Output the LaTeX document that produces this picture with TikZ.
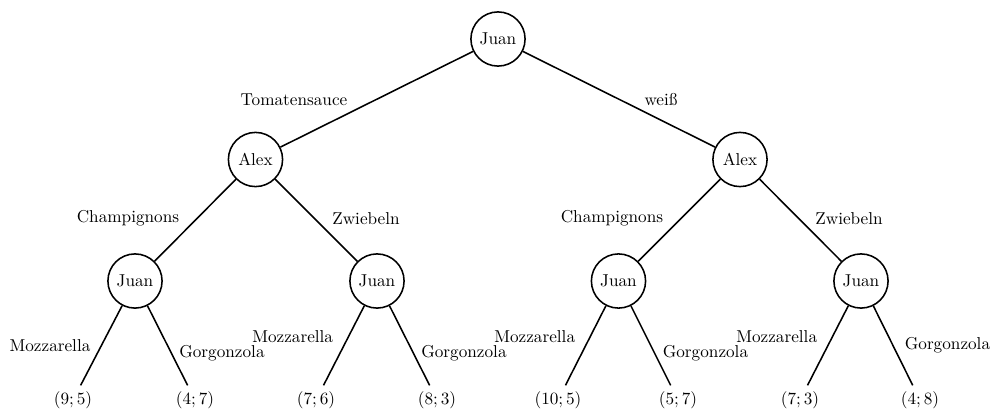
\documentclass[tikz,border=0pt]{standalone}
\begin{document}
\begin{tikzpicture}[x=0.5814pt,y=-0.5814pt,
  player/.style={circle,draw,line width=0.9pt,minimum size=31.5pt,inner sep=0pt},
  leaf/.style={inner sep=3.33pt},
  lbl/.style={inner sep=0pt},
  branch/.style={line width=0.9pt}]
\useasboundingbox (0,0) rectangle (992,409);
% players
\node[player] (r) at (498,39) {Juan};
\node[player] (a1) at (255.5,159.5) {Alex};
\node[player] (a2) at (740,159.5) {Alex};
\node[player] (j1) at (135,281) {Juan};
\node[player] (j2) at (377,281) {Juan};
\node[player] (j3) at (618.5,281) {Juan};
\node[player] (j4) at (861,281) {Juan};
% leaves
\node[leaf] (l1) at (73,400) {$(9;5)$};
\node[leaf] (l2) at (195,400) {$(4;7)$};
\node[leaf] (l3) at (316,400) {$(7;6)$};
\node[leaf] (l4) at (437,400) {$(8;3)$};
\node[leaf] (l5) at (558,400) {$(10;5)$};
\node[leaf] (l6) at (678,400) {$(5;7)$};
\node[leaf] (l7) at (800,400) {$(7;3)$};
\node[leaf] (l8) at (920,400) {$(4;8)$};
% edges
\draw[branch] (r) -- (a1);
\draw[branch] (r) -- (a2);
\draw[branch] (a1) -- (j1);
\draw[branch] (a1) -- (j2);
\draw[branch] (a2) -- (j3);
\draw[branch] (a2) -- (j4);
\draw[branch] (j1) -- (l1);
\draw[branch] (j1) -- (l2);
\draw[branch] (j2) -- (l3);
\draw[branch] (j2) -- (l4);
\draw[branch] (j3) -- (l5);
\draw[branch] (j3) -- (l6);
\draw[branch] (j4) -- (l7);
\draw[branch] (j4) -- (l8);
% labels
\node[lbl] (t1) at (294,100) {Tomatensauce};
\node[lbl] (t2) at (661,100) {weiß};
\node[lbl] (c1) at (128,218) {Champignons};
\node[lbl] (z1) at (366,219) {Zwiebeln};
\node[lbl] (c2) at (612,218) {Champignons};
\node[lbl] (z2) at (849,219) {Zwiebeln};
\node[lbl] (m1) at (50,345.5) {Mozzarella};
\node[lbl] (g1) at (222,353.5) {Gorgonzola};
\node[lbl] (m2) at (292.7,337) {Mozzarella};
\node[lbl] (g2) at (464,353.5) {Gorgonzola};
\node[lbl] (m3) at (534.7,337) {Mozzarella};
\node[lbl] (g3) at (705.5,353.5) {Gorgonzola};
\node[lbl] (m4) at (776.7,337) {Mozzarella};
\node[lbl] (g4) at (947.5,345) {Gorgonzola};
\end{tikzpicture}
\end{document}
